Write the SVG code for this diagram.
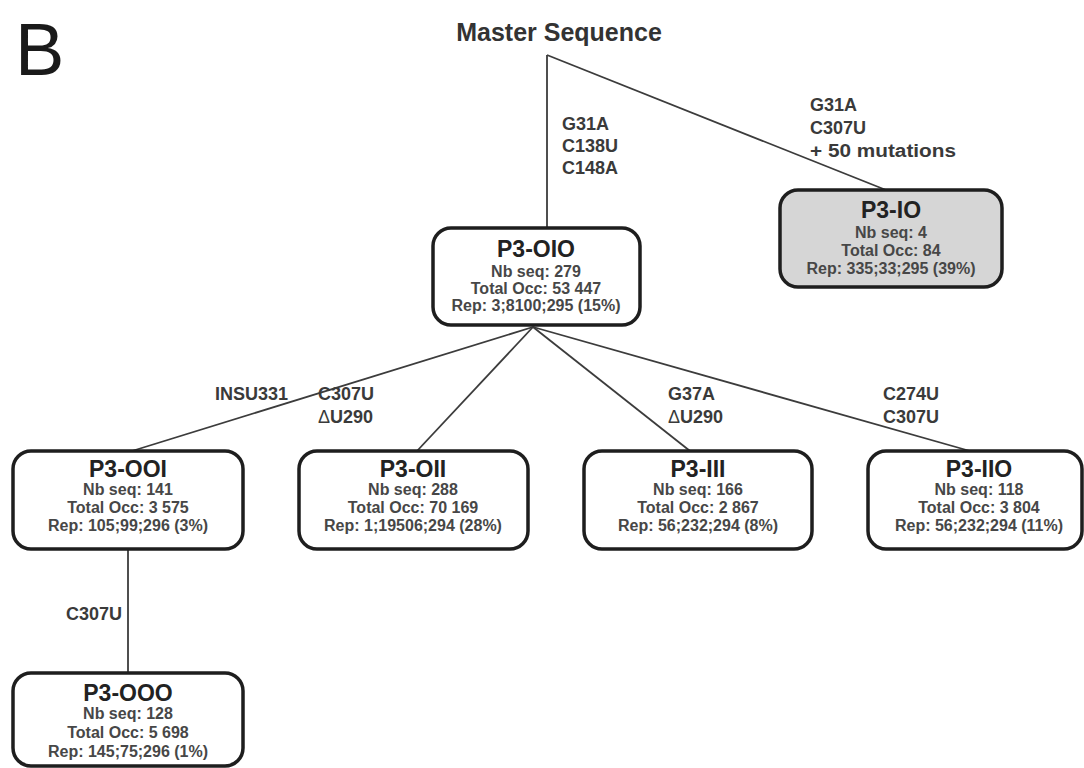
<svg xmlns="http://www.w3.org/2000/svg" width="1084" height="768" viewBox="0 0 1084 768">
  <style>
    text { font-family: "Liberation Sans", Arial, sans-serif; }
    .panel { font-size: 74px; fill: #1a1a1a; }
    .root { font-size: 25px; font-weight: bold; fill: #333; text-anchor: middle; }
    .mut { font-size: 18px; font-weight: bold; fill: #3a3a3a; }
    .delta { font-weight: normal; }
    .box { fill: #ffffff; stroke: #1e1e1e; stroke-width: 3.5; }
    .box.grey { fill: #d6d6d6; }
    .title { font-size: 23px; font-weight: bold; fill: #222; text-anchor: middle; }
    .info { font-size: 16px; font-weight: bold; fill: #474747; text-anchor: middle; }
    .edge { stroke: #3c3c3c; stroke-width: 1.8; fill: none; }
  </style>

  <rect width="1084" height="768" fill="#ffffff"/>

  <text class="panel" x="15" y="75">B</text>
  <text class="root" x="559" y="41">Master Sequence</text>

  <!-- connectors -->
  <g id="connectors">
    <line class="edge" x1="547" y1="55" x2="547" y2="229"/>
    <line class="edge" x1="547" y1="55" x2="886" y2="190"/>
    <line class="edge" x1="533" y1="327" x2="132" y2="451"/>
    <line class="edge" x1="533" y1="327" x2="417" y2="451"/>
    <line class="edge" x1="533" y1="327" x2="690" y2="451"/>
    <line class="edge" x1="533" y1="327" x2="970" y2="451"/>
    <line class="edge" x1="128" y1="549" x2="128" y2="673"/>
  </g>

  <!-- mutation labels -->
  <g id="edge-labels">
    <text class="mut" x="562" y="130">G31A</text>
    <text class="mut" x="562" y="152">C138U</text>
    <text class="mut" x="562" y="174">C148A</text>

    <text class="mut" x="810" y="111">G31A</text>
    <text class="mut" x="810" y="134">C307U</text>
    <text class="mut" x="810" y="157" textLength="146" lengthAdjust="spacingAndGlyphs">+ 50 mutations</text>

    <text class="mut" x="215" y="400">INSU331</text>

    <text class="mut" x="318" y="400">C307U</text>
    <text class="mut" x="318" y="423"><tspan class="delta">Δ</tspan>U290</text>

    <text class="mut" x="668" y="400">G37A</text>
    <text class="mut" x="668" y="423"><tspan class="delta">Δ</tspan>U290</text>

    <text class="mut" x="883" y="400">C274U</text>
    <text class="mut" x="883" y="423">C307U</text>

    <text class="mut" x="122" y="620" text-anchor="end">C307U</text>
  </g>

  <g id="P3-OIO">
    <rect class="box" x="433" y="228" width="207" height="97" rx="18"/>
    <text class="title" x="536" y="257">P3-OIO</text>
    <text class="info" x="536" y="277">Nb seq: 279</text>
    <text class="info" x="536" y="294">Total Occ: 53 447</text>
    <text class="info" x="536" y="311">Rep: 3;8100;295 (15%)</text>
  </g>

  <g id="P3-IO">
    <rect class="box grey" x="780" y="190" width="222" height="97" rx="18"/>
    <text class="title" x="891" y="218">P3-IO</text>
    <text class="info" x="891" y="238">Nb seq: 4</text>
    <text class="info" x="891" y="256">Total Occ: 84</text>
    <text class="info" x="891" y="274">Rep: 335;33;295 (39%)</text>
  </g>

  <g id="P3-OOI">
    <rect class="box" x="13" y="451" width="230" height="98" rx="18"/>
    <text class="title" x="128" y="477">P3-OOI</text>
    <text class="info" x="128" y="495">Nb seq: 141</text>
    <text class="info" x="128" y="513">Total Occ: 3 575</text>
    <text class="info" x="128" y="531">Rep: 105;99;296 (3%)</text>
  </g>

  <g id="P3-OII">
    <rect class="box" x="299" y="451" width="229" height="98" rx="18"/>
    <text class="title" x="413" y="477">P3-OII</text>
    <text class="info" x="413" y="495">Nb seq: 288</text>
    <text class="info" x="413" y="513">Total Occ: 70 169</text>
    <text class="info" x="413" y="531">Rep: 1;19506;294 (28%)</text>
  </g>

  <g id="P3-III">
    <rect class="box" x="584" y="451" width="228" height="98" rx="18"/>
    <text class="title" x="698" y="477">P3-III</text>
    <text class="info" x="698" y="495">Nb seq: 166</text>
    <text class="info" x="698" y="513">Total Occ: 2 867</text>
    <text class="info" x="698" y="531">Rep: 56;232;294 (8%)</text>
  </g>

  <g id="P3-IIO">
    <rect class="box" x="868" y="451" width="214" height="98" rx="18"/>
    <text class="title" x="979" y="477">P3-IIO</text>
    <text class="info" x="979" y="495">Nb seq: 118</text>
    <text class="info" x="979" y="513">Total Occ: 3 804</text>
    <text class="info" x="979" y="531">Rep: 56;232;294 (11%)</text>
  </g>

  <g id="P3-OOO">
    <rect class="box" x="13" y="673" width="230" height="93" rx="18"/>
    <text class="title" x="128" y="701">P3-OOO</text>
    <text class="info" x="128" y="719">Nb seq: 128</text>
    <text class="info" x="128" y="738">Total Occ: 5 698</text>
    <text class="info" x="128" y="757">Rep: 145;75;296 (1%)</text>
  </g>
</svg>
